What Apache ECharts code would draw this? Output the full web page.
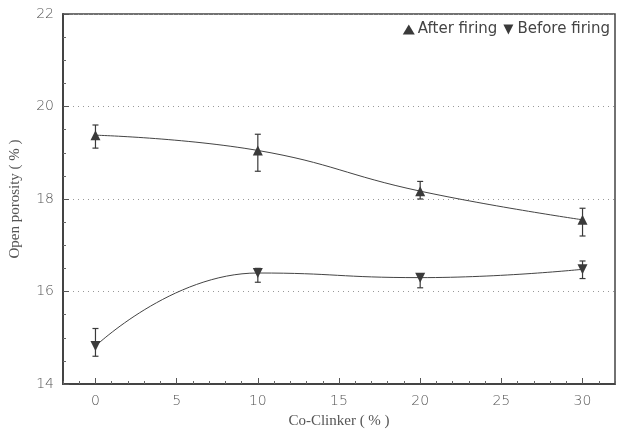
<!DOCTYPE html>
<html>
<head>
<meta charset="utf-8">
<script src="https://cdn.jsdelivr.net/npm/echarts@6/dist/echarts.min.js"></script>
<style>html,body{margin:0;padding:0;background:#fff}#c{width:623px;height:434px}</style>
</head>
<body>
<div id="c"></div>
<script>
// Co-Clinker content (%)
const clinker = [0, 10, 20, 30];
// Open porosity (%) after firing, with error-bar bounds
const afterFiring = [19.38, 19.05, 18.17, 17.55];
const afterLow = [19.1, 18.6, 18.0, 17.2];
const afterHigh = [19.6, 19.4, 18.38, 17.8];
// Open porosity (%) before firing, with error-bar bounds
const beforeFiring = [14.82, 16.4, 16.3, 16.48];
const beforeLow = [14.6, 16.2, 16.08, 16.28];
const beforeHigh = [15.2, 16.5, 16.36, 16.66];
// Axis tick labels
const xTicks = [0, 5, 10, 15, 20, 25, 30];
const xMinorTicks = [-2, -1, 1, 2, 3, 4, 6, 7, 8, 9, 11, 12, 13, 14, 16, 17, 18, 19, 21, 22, 23, 24, 26, 27, 28, 29, 31, 32];

const ink = '#3a3a3a';
const chart = echarts.init(document.getElementById('c'));

function pairs(xs, ys) { return xs.map((x, i) => [x, ys[i]]); }
function bars(xs, lo, hi) { return xs.map((x, i) => [x, lo[i], hi[i]]); }

function errorBar(params, api) {
  const x = api.value(0);
  const p1 = api.coord([x, api.value(1)]);
  const p2 = api.coord([x, api.value(2)]);
  const w = 3;
  const style = { stroke: ink, lineWidth: 1.2 };
  return {
    type: 'group',
    children: [
      { type: 'line', shape: { x1: p1[0], y1: p1[1], x2: p2[0], y2: p2[1] }, style },
      { type: 'line', shape: { x1: p1[0] - w, y1: p1[1], x2: p1[0] + w, y2: p1[1] }, style },
      { type: 'line', shape: { x1: p2[0] - w, y1: p2[1], x2: p2[0] + w, y2: p2[1] }, style }
    ]
  };
}

const tickFont = { color: '#555', fontSize: 14, fontFamily: 'DejaVu Sans', fontWeight: 'lighter' };
const nameFont = { color: '#555', fontSize: 15, fontFamily: 'Liberation Serif' };

chart.setOption({
  animation: false,
  backgroundColor: '#fff',
  grid: { left: 61, right: 8, top: 14, bottom: 44, show: true, borderColor: '#444', borderWidth: 1.5 },
  legend: {
    top: 17, right: 8, itemGap: 6, itemWidth: 12, itemHeight: 10,
    textStyle: { color: '#444', fontSize: 15, fontFamily: 'DejaVu Sans', padding: [0, 0, 0, -2] },
    data: [
      { name: 'After firing', icon: 'triangle' },
      { name: 'Before firing', icon: 'path://M0,0 L10,0 L5,10 Z' }
    ]
  },
  xAxis: [
    {
      type: 'value', min: -2, max: 32,
      name: 'Co-Clinker ( % )', nameLocation: 'middle', nameGap: 30, nameTextStyle: nameFont,
      axisLine: { onZero: false, lineStyle: { color: '#444', width: 2 } },
      axisTick: { inside: true, length: 6, customValues: xTicks, lineStyle: { color: '#555' } },
      axisLabel: { customValues: xTicks, margin: 10, ...tickFont },
      splitLine: { show: false }
    },
    {
      type: 'value', min: -2, max: 32, position: 'bottom',
      axisLine: { show: false, onZero: false },
      axisTick: { inside: true, length: 3, customValues: xMinorTicks, lineStyle: { color: '#666' } },
      axisLabel: { show: false },
      splitLine: { show: false }
    }
  ],
  yAxis: {
    type: 'value', min: 14, max: 22, interval: 2,
    name: 'Open porosity ( % )', nameLocation: 'middle', nameGap: 40, nameTextStyle: nameFont,
    axisLine: { onZero: false, lineStyle: { color: '#444', width: 2 } },
    axisTick: { inside: true, length: 6, lineStyle: { color: '#555' } },
    minorTick: { show: true, splitNumber: 4, length: 3, lineStyle: { color: '#666' } },
    axisLabel: { margin: 9, ...tickFont },
    splitLine: { show: true, lineStyle: { color: '#999', type: [1, 4], width: 1 } }
  },
  series: [
    {
      name: 'After firing', type: 'line', smooth: 0.45, data: pairs(clinker, afterFiring),
      symbol: 'triangle', symbolSize: 10,
      lineStyle: { color: '#444', width: 1 }, itemStyle: { color: ink }, z: 3
    },
    {
      name: 'Before firing', type: 'line', smooth: 0.5, data: pairs(clinker, beforeFiring),
      symbol: 'path://M0,0 L10,0 L5,10 Z', symbolSize: 10,
      lineStyle: { color: '#444', width: 1 }, itemStyle: { color: ink }, z: 3
    },
    { type: 'custom', renderItem: errorBar, data: bars(clinker, afterLow, afterHigh), z: 2, silent: true },
    { type: 'custom', renderItem: errorBar, data: bars(clinker, beforeLow, beforeHigh), z: 2, silent: true }
  ]
});
</script>
</body>
</html>
